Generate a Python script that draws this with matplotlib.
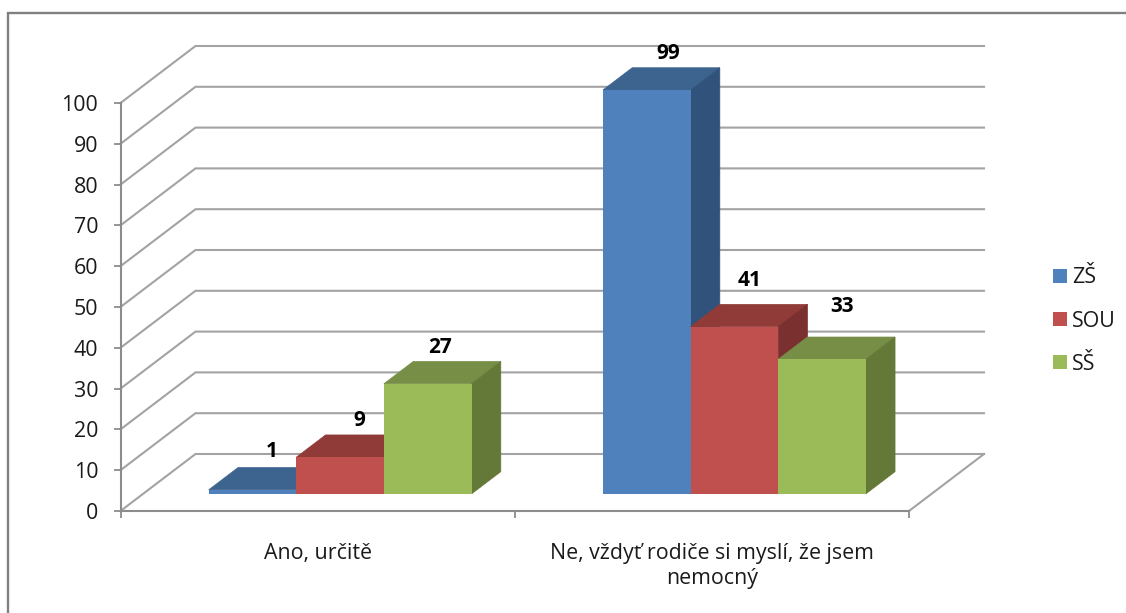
import matplotlib
matplotlib.use("Agg")
import matplotlib.pyplot as plt
from matplotlib.lines import Line2D
from matplotlib.patches import Polygon, Patch
import numpy as np

categories = ["Ano, určitě", "Ne, vždyť rodiče si myslí, že jsem\nnemocný"]
series_names = ["ZŠ", "SOU", "SŠ"]
zs_values = [1, 99]
sou_values = [9, 41]
ss_values = [27, 33]
y_ticks = list(range(0, 101, 10))

W, H = 1126, 613
plt.rcParams['font.family'] = ['Open Sans', 'DejaVu Sans']
FS = 15.4
FSB = 15
TXT = '#1a1a1a'
GRID = '#a3a3a3'
AXC = '#8c8c8c'

front = ['#4F81BD', '#C0504D', '#9BBB59']
topc = ['#3D638F', '#913B39', '#778E46']
side = ['#31527A', '#7A302E', '#647838']

fig = plt.figure(figsize=(W / 100, H / 100), dpi=100, facecolor='white')
L, R, B, T = 120.5, 909, 511, 103
ax = fig.add_axes([L / W, 1 - B / H, (R - L) / W, (B - T) / H])
ax.set_xlim(0, 2)
ax.set_ylim(0, 100)
ax.patch.set_visible(False)
px_x = 2 / (R - L)
px_y = 100 / (B - T)

# depth vector of the floor, in data units
DX, DY = 75 * px_x, 57 * px_y


def proj(x, y, d):
    return (x + d * DX, y + d * DY)


# walls
for v in y_ticks:
    pts = [proj(0, v, 0), proj(0, v, 1), proj(2, v, 1)]
    ax.plot(*zip(*pts), color=GRID, lw=1.5, clip_on=False, zorder=1, solid_joinstyle='miter')
ax.plot(*zip(proj(2, 0, 0), proj(2, 0, 1)), color=GRID, lw=1.5, clip_on=False, zorder=1)

# bars
d0, d1 = 0.30, 0.69
bar_w = 2 / 9 * 1.0
all_vals = [zs_values, sou_values, ss_values]
nudges = [[(19.5, 38.5), (21, 36)], [(19.5, 37), (15, 46)], [(12, 36), (20.5, 53)]]
for c in range(len(categories)):
    for s in range(3):
        v = all_vals[s][c]
        x0 = c + 0.5 - 1.5 * bar_w + s * bar_w
        x1 = x0 + bar_w
        fb = proj(x0, 0, d0)
        ax.bar(fb[0], v, width=bar_w, bottom=fb[1], align='edge', color=front[s],
               lw=0, clip_on=False, zorder=3 + s)
        ax.add_patch(Polygon([proj(x0, v, d0), proj(x1, v, d0), proj(x1, v, d1), proj(x0, v, d1)],
                             closed=True, fc=topc[s], ec=topc[s], lw=0.5, clip_on=False, zorder=2.5 + s))
        ax.add_patch(Polygon([proj(x1, 0, d0), proj(x1, v, d0), proj(x1, v, d1), proj(x1, 0, d1)],
                             closed=True, fc=side[s], ec=side[s], lw=0.5, clip_on=False, zorder=2.5 + s))
        nx, ny = nudges[s][c]
        tx, ty = proj((x0 + x1) / 2, v, d0)
        ax.annotate(str(v), (tx, ty), xytext=(nx * .72, ny * .72), textcoords='offset points',
                    ha='center', va='center', fontsize=FSB, fontweight='bold', color='black',
                    zorder=10, annotation_clip=False)

# axes
for sp in ['top', 'right']:
    ax.spines[sp].set_visible(False)
for sp in ['left', 'bottom']:
    ax.spines[sp].set_color(AXC)
    ax.spines[sp].set_linewidth(1.5)
    ax.spines[sp].set_zorder(2)
ax.set_yticks(y_ticks)
ax.tick_params(axis='y', length=5, width=1.3, color=AXC, pad=11, labelsize=FS, labelcolor=TXT)
ax.set_xticks([0, 1, 2])
ax.tick_params(axis='x', which='major', length=5, width=1.3, color=AXC, labelbottom=False)
ax.set_xticks([0.5, 1.5], minor=True)
ax.set_xticklabels(categories, minor=True, fontsize=FS, color=TXT, linespacing=1.28)
ax.tick_params(axis='x', which='minor', length=0, pad=23)

# legend
handles = [Patch(fc=front[i], ec='none', label=series_names[i]) for i in range(3)]
fig.legend(handles=handles, loc='upper left', bbox_to_anchor=(1049 / W, 1 - 263 / H),
           frameon=False, fontsize=FS, handlelength=0.62, handleheight=0.62,
           handletextpad=0.24, labelspacing=1.04, borderpad=0.2, borderaxespad=0,
           labelcolor=TXT)

# outer frame of the pasted picture
fig.add_artist(Line2D([8 / W, 8 / W, 1], [0, 1 - 13 / H, 1 - 13 / H], color='#808080', lw=1.7,
                      solid_joinstyle='miter'))

fig.savefig('out.png', dpi=100, facecolor='white')
